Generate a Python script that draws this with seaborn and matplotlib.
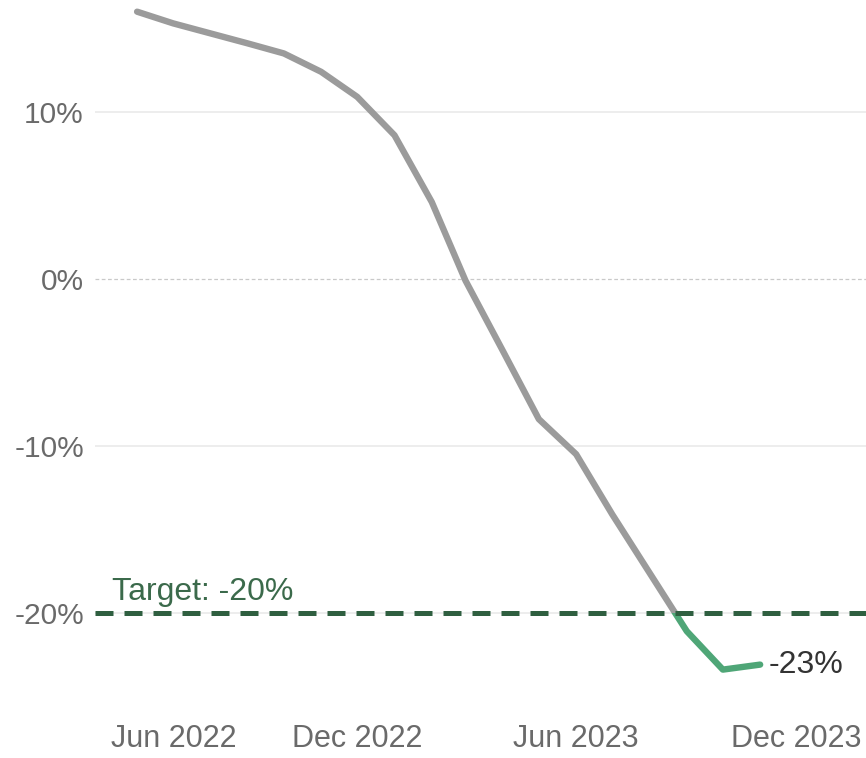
import matplotlib
matplotlib.use("Agg")
import matplotlib.pyplot as plt
import matplotlib.patches as mpatches
import matplotlib.transforms as mtransforms
import pandas as pd
import seaborn as sns

# dati (variazione %, mensile giu 2022 - nov 2023)
months = pd.date_range("2022-06-01", periods=18, freq="MS")
change = [16.0, 15.3, 14.7, 14.1, 13.5, 12.4, 10.9, 8.6, 4.6, -0.1,
          -4.3, -8.4, -10.5, -14.1, -17.6, -21.1, -23.4, -23.1]
target = -20
y_ticks = [-20, -10, 0, 10]
x_tick_dates = ["2022-06-01", "2022-09-01", "2022-12-01", "2023-03-01",
                "2023-06-01", "2023-09-01", "2023-12-01"]
x_tick_labels = ["Jun 2022", "", "Dec 2022", "", "Jun 2023", "", "Dec 2023"]

GRAY = "#9b9b9b"
GREEN = "#4fa677"
DARK_GREEN = "#2f5f40"
TEXT = "#6a6a6a"

sns.set_style("white")
plt.rcParams["font.family"] = ["Liberation Sans", "DejaVu Sans"]

df = pd.DataFrame({"month": months, "change": change})

fig = plt.figure(figsize=(8.66, 7.58), dpi=100)
ax = fig.add_axes([95 / 866, 60 / 758, 771 / 866, 698 / 758])

# linea grigia sopra il target, verde sotto
sns.lineplot(data=df, x="month", y="change", color=GRAY, linewidth=4.6, ax=ax)
sns.lineplot(data=df, x="month", y="change", color=GREEN, linewidth=4.6, ax=ax)
above = mpatches.Rectangle((0, target), 1, 100, transform=ax.get_yaxis_transform())
below = mpatches.Rectangle((0, target - 100), 1, 100, transform=ax.get_yaxis_transform())
ax.lines[0].set_clip_path(above)
ax.lines[1].set_clip_path(below)
for ln in ax.lines:
    ln.set_solid_capstyle("round")

ax.axhline(target, color=DARK_GREEN, linewidth=3.6, dashes=(3.6, 2.2), zorder=3)
ax.annotate(f"Target: {target}%", xy=(0.022, target), xycoords=ax.get_yaxis_transform(),
            xytext=(0, 4), textcoords="offset points", ha="left", va="bottom",
            fontsize=23, color="#3b6a4b")

last = df.iloc[-1]
ax.annotate(f"{round(last.change)}%", xy=(last.month, last.change),
            xytext=(6, 0), textcoords="offset points", ha="left", va="center",
            fontsize=23, color="#333333")

ax.set_ylim(-25.1, 16.7)
ax.set_xlim(pd.Timestamp("2022-04-27"), pd.Timestamp("2024-01-28"))
ax.set_yticks(y_ticks)
ax.set_yticklabels([f"{v}%" for v in y_ticks])
ax.set_xticks(pd.to_datetime(x_tick_dates))
ax.set_xticklabels(x_tick_labels)
ax.set_xlabel("")
ax.set_ylabel("")

ax.grid(axis="y", color="#ececec", linewidth=1.3)
ax.grid(axis="x", visible=False)
ax.get_ygridlines()[y_ticks.index(0)].set(color="#c9c9c9", linestyle=(0, (3, 2)), linewidth=0.9)
ax.set_axisbelow(True)

ax.tick_params(axis="y", length=0, pad=8, labelsize=21.5, labelcolor=TEXT)
ax.tick_params(axis="x", length=9, width=1, color="#eaeaea", pad=10,
               labelsize=22, labelcolor=TEXT)
# la prima etichetta è spostata a destra nell'originale
first = ax.get_xticklabels()[0]
first.set_transform(first.get_transform() +
                    mtransforms.ScaledTranslation(37 / 100, 0, fig.dpi_scale_trans))

sns.despine(ax=ax, left=True, bottom=True, top=True, right=True)

fig.savefig("out.png", dpi=100)
